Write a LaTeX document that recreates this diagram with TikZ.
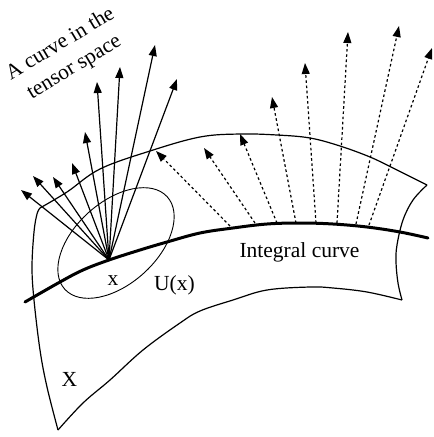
\documentclass[tikz,border=0pt]{standalone}
\usepackage{fontspec}
\setmainfont{Liberation Serif}
\usetikzlibrary{arrows.meta}
\begin{document}
\begin{tikzpicture}[x=1pt,y=-1pt,
  edge/.style={line width=1.2pt, line join=round},
  vec/.style={line width=1.2pt, -{Triangle[length=11pt,width=8pt]}},
  dvec/.style={line width=1.2pt, dash pattern=on 2.6pt off 2.6pt, -{Triangle[length=11pt,width=8pt]}},
  lbl/.style={font=\fontsize{21.5}{26}\selectfont, inner sep=0pt, anchor=base}]
\useasboundingbox (0,0) rectangle (434,437);
% region X
\draw[edge] plot[smooth, tension=0.6] coordinates {(40,208) (67,192) (100,169) (150,151) (200,137) (240,134) (277,135) (310,138) (340,146) (370,157) (393,168) (427,185)};
\draw[edge] plot[smooth, tension=0.6] coordinates {(427,185) (413,200) (403,220) (397,245) (396,262) (398,283) (402,300)};
\draw[edge] plot[smooth, tension=0.6] coordinates {(402,300) (367,292) (333,288) (310,287) (267,290) (233,300) (200,311) (180,323) (143,350) (110,380) (83,403) (58,430)};
\draw[edge] plot[smooth, tension=0.6] coordinates {(58,430) (47,387) (40,350) (34,300) (32,267) (34,232) (37,214) (40,208)};
% neighbourhood
\draw[line width=0.9pt, rotate around={42:(116,243)}] (116,243) ellipse [x radius=69, y radius=41];
% integral curve
\draw[line width=3pt, line cap=round] plot[smooth, tension=0.6] coordinates {(25,302) (60,282) (83,270) (109,260) (140,250) (167,242) (200,233) (233,228) (267,224) (300,223) (333,224) (367,227) (400,232) (428,238)};
% point x and solid arrows
\coordinate (o) at (109,260);
\coordinate (s1) at (21,190);
\coordinate (s2) at (33,176);
\coordinate (s3) at (53,177);
\coordinate (s4) at (72,163);
\coordinate (s5) at (85,132);
\coordinate (s6) at (97,82);
\coordinate (s7) at (120,67);
\coordinate (s8) at (155,45);
\coordinate (s9) at (177,79);
\foreach \k in {1,...,9} \draw[vec] (o) -- (s\k);
% dotted arrows
\coordinate (p1) at (230,226); \coordinate (q1) at (156,151);
\coordinate (p2) at (255,223); \coordinate (q2) at (204,148);
\coordinate (p3) at (277,223); \coordinate (q3) at (240,134);
\coordinate (p4) at (296,223); \coordinate (q4) at (272,97);
\coordinate (p5) at (316,223); \coordinate (q5) at (305,63);
\coordinate (p6) at (337,223); \coordinate (q6) at (348,32);
\coordinate (p7) at (356,224); \coordinate (q7) at (399,26);
\coordinate (p8) at (369,225); \coordinate (q8) at (432,48);
\foreach \k in {1,...,8} \draw[dvec] (p\k) -- (q\k);
% labels
\node[lbl] (lx) at (113,285) {x};
\node[lbl] (lu) at (174.5,290) {U(x)};
\node[lbl] (lX) at (69.5,386) {X};
\node[lbl] (lic) at (299.5,257) {Integral curve};
\node[lbl, anchor=center, align=center, rotate=31, font=\fontsize{21.5}{27}\selectfont] (la) at (67.5,56) {A curve in the\\tensor space};
\end{tikzpicture}
\end{document}
